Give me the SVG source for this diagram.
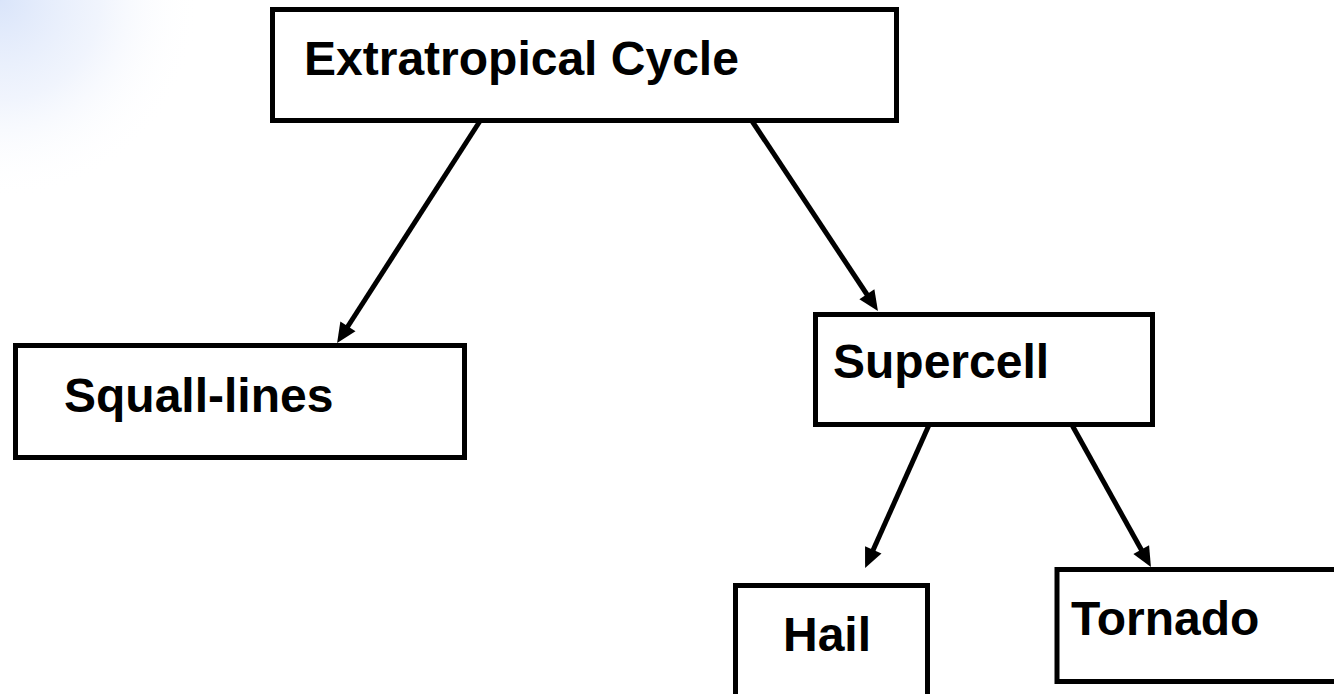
<svg xmlns="http://www.w3.org/2000/svg" width="1334" height="694" viewBox="0 0 1334 694">
  <style>
    .box { fill: #ffffff; stroke: #000000; stroke-width: 5; }
    .label { font-family: "Liberation Sans", Arial, sans-serif; font-weight: bold; font-size: 48px; fill: #000000; }
    .link { stroke: #000000; stroke-width: 5; fill: none; marker-end: url(#head); }
  </style>
  <defs>
    <!-- soft blue wash in the upper-left corner -->
    <radialGradient id="haze" cx="0" cy="0" r="200" gradientUnits="userSpaceOnUse">
      <stop offset="0" stop-color="#d3e0f9" stop-opacity="0.85"/>
      <stop offset="0.5" stop-color="#e2eafb" stop-opacity="0.5"/>
      <stop offset="1" stop-color="#ffffff" stop-opacity="0"/>
    </radialGradient>
    <marker id="head" markerUnits="userSpaceOnUse" markerWidth="22" markerHeight="20" refX="8" refY="9" orient="auto" overflow="visible">
      <path d="M0,0 L20,9 L0,18 z" fill="#000000"/>
    </marker>
  </defs>

  <rect width="1334" height="694" fill="#ffffff"/>
  <rect width="260" height="260" fill="url(#haze)"/>

  <g id="connectors">
    <line class="link" x1="480" y1="121" x2="343.6" y2="333.0"/>
    <line class="link" x1="752" y1="121" x2="871.3" y2="301.0"/>
    <line class="link" x1="929" y1="425" x2="870.0" y2="557.1"/>
    <line class="link" x1="1072" y1="425" x2="1145.1" y2="556.5"/>
  </g>

  <g id="extratropical-cycle">
    <rect class="box" x="272.5" y="9.5" width="624" height="111"/>
    <text class="label" x="304" y="75">Extratropical Cycle</text>
  </g>

  <g id="squall-lines">
    <rect class="box" x="15.5" y="345.5" width="449" height="112"/>
    <text class="label" x="64" y="412">Squall-lines</text>
  </g>

  <g id="supercell">
    <rect class="box" x="815.5" y="314.5" width="337" height="110"/>
    <text class="label" x="833" y="378">Supercell</text>
  </g>

  <g id="hail">
    <rect class="box" x="735.5" y="585.5" width="192" height="200"/>
    <text class="label" x="783" y="651">Hail</text>
  </g>

  <g id="tornado">
    <rect class="box" x="1057" y="569.5" width="300" height="112"/>
    <text class="label" x="1071" y="635">Tornado</text>
  </g>
</svg>
